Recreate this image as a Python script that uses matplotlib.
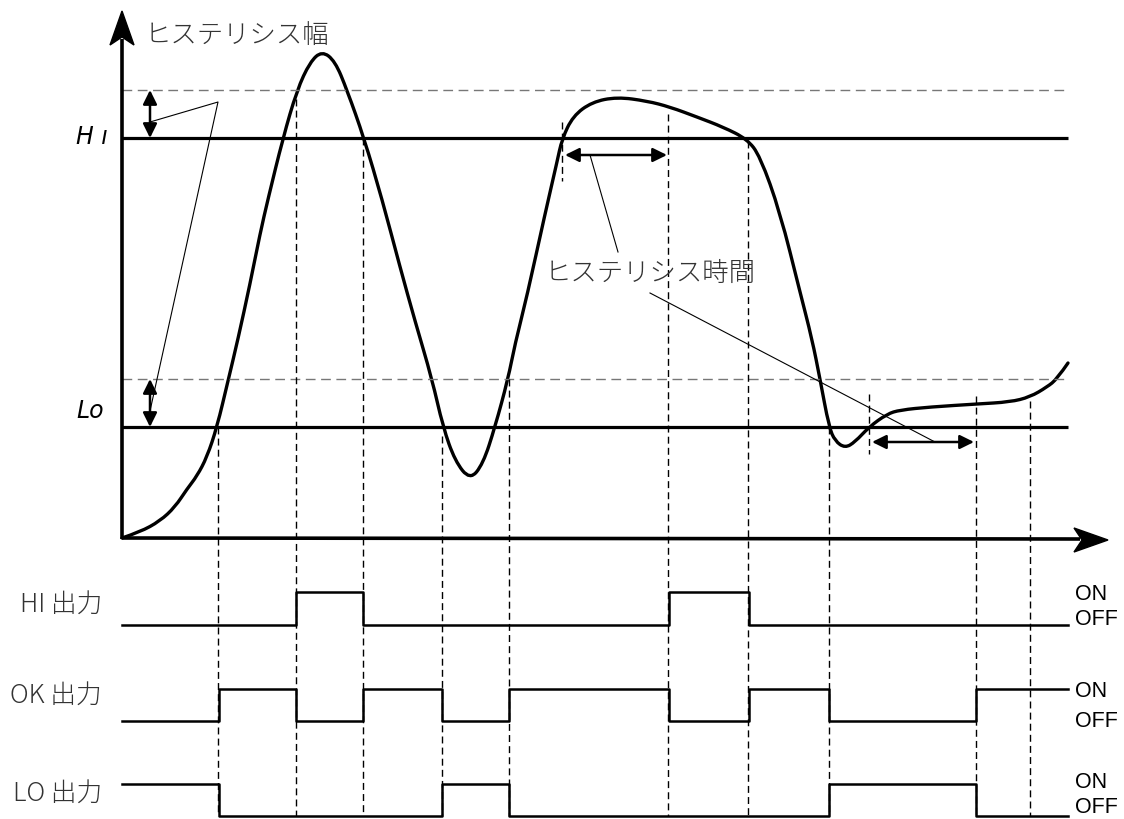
import matplotlib
matplotlib.use("Agg")
import matplotlib.pyplot as plt
from matplotlib.path import Path
from matplotlib.patches import PathPatch, Polygon
import numpy as np

# ---------------- data (pixel units) ----------------
curve_x = [122, 140, 160, 175, 187, 197, 207, 217, 228, 238, 250, 260, 268, 283, 297,
           310, 322, 335, 347, 364, 382, 400, 415, 432, 443, 455, 470, 483, 495, 508,
           515, 527, 545, 557, 562, 573, 592, 617, 647, 670, 697, 723, 747, 760, 780,
           800, 812, 820, 829, 835, 845, 855, 869, 887, 900, 930, 977, 1010, 1030,
           1047, 1057, 1068]
curve_y = [539, 533, 522, 508, 490, 477, 458, 428, 382, 340, 285, 235, 200, 139, 91,
           63, 52, 62, 91, 139, 200, 268, 322, 380, 428, 462, 481, 465, 428, 380,
           345, 297, 215, 163, 140, 117, 103, 98, 102, 108, 118, 128, 140, 157, 213,
           293, 340, 380, 428, 442, 449, 443, 428, 415, 411, 408, 405, 403, 398,
           388, 380, 364]

hi_level = 139
lo_level = 428
hi_hyst = 91
lo_hyst = 380

out_t = [122, 219, 296, 363, 442, 509, 669, 749, 829, 976, 1068]
hi_state = [0, 0, 1, 0, 0, 0, 1, 0, 0, 0]
ok_state = [0, 1, 0, 1, 0, 1, 0, 1, 0, 1]
lo_state = [1, 0, 0, 0, 1, 0, 0, 0, 1, 0]
out_names = ["HI 出力", "OK 出力", "LO 出力"]
out_on = [593, 690, 785]
out_off = [626, 722, 817]

# dashed guide lines: x, top y (all run down to the bottom of the outputs)
guide_x = [218, 296, 363, 442, 509, 668, 748, 829, 976, 1030]
guide_top = [428, 100, 139, 437, 380, 115, 142, 428, 397, 402]
# short hysteresis-time markers: x, top, bottom
mark_x = [562, 869]
mark_top = [123, 395]
mark_bot = [182, 455]
# hysteresis-time spans
span_x0 = [565, 872]
span_x1 = [667, 974]
span_y = [156, 443]

# ---------------- figure ----------------
W, H = 1124, 820
fig = plt.figure(figsize=(W / 100, H / 100), dpi=100)
ax = fig.add_axes([0, 0, 1, 1])
ax.set_xlim(0, W)
ax.set_ylim(H, 0)
ax.axis("off")

jp = ["Noto Sans CJK JP", "DejaVu Sans"]
txt_col = "#333333"
X0, X1 = 122, 1068
y_base = 539

# hysteresis dashed lines (gray)
for yy in (hi_hyst, lo_hyst):
    ax.plot([X0, X1], [yy, yy], color="#777777", lw=1.0, ls=(0, (7, 4)))

# Hi / Lo thresholds
for yy in (hi_level, lo_level):
    ax.plot([X0, X1], [yy, yy], color="black", lw=2.3, solid_capstyle="butt")

# dashed vertical guides
for gx, gt in zip(guide_x, guide_top):
    ax.plot([gx, gx], [gt, out_off[2]], color="black", lw=1.0, ls=(0, (5, 3)))
for mx, mt, mb in zip(mark_x, mark_top, mark_bot):
    ax.plot([mx, mx], [mt, mb], color="black", lw=1.0, ls=(0, (5, 3)))

# waveform as smooth quadratic path through the read points
pts = np.column_stack([curve_x, curve_y]).astype(float)
verts = [tuple(pts[0])]
codes = [Path.MOVETO]
for i in range(1, len(pts) - 1):
    mid = (pts[i] + pts[i + 1]) / 2.0
    if i == len(pts) - 2:
        mid = pts[i + 1]
    verts += [tuple(pts[i]), tuple(mid)]
    codes += [Path.CURVE3, Path.CURVE3]
ax.add_patch(PathPatch(Path(verts, codes), fill=False, lw=2.4, ec="black",
                       capstyle="round", joinstyle="round"))

# axes with arrows
ax.plot([X0, X0], [y_base + 1, 40], color="black", lw=2.6, solid_capstyle="butt")
ax.plot([X0, 1080], [y_base, y_base + 1], color="black", lw=2.6, solid_capstyle="butt")
ax.add_patch(Polygon([(122, 12), (134, 46), (122, 38), (110, 46)], closed=True,
                     fc="black", ec="black", lw=1))
ax.add_patch(Polygon([(1108, 541), (1074, 529), (1082, 541), (1074, 553)], closed=True,
                     fc="black", ec="black", lw=1))

# hysteresis width / time double arrows
astyle = dict(arrowstyle="<|-|>,head_length=0.85,head_width=0.42", color="black",
              lw=1.8, shrinkA=0, shrinkB=0)
for a, b in ((hi_hyst, hi_level), (lo_hyst, lo_level)):
    ax.annotate("", xy=(150, a), xytext=(150, b), arrowprops=astyle)
for x0, x1, yy in zip(span_x0, span_x1, span_y):
    ax.annotate("", xy=(x0, yy), xytext=(x1, yy), arrowprops=astyle)

# leader lines
ax.plot([150, 218, 150], [123, 103, 412], color="black", lw=0.8)
ax.plot([590, 618], [156, 253], color="black", lw=0.8)
ax.plot([650, 935], [294, 443], color="black", lw=0.8)

# texts
ax.text(145, 35, "ヒステリシス幅", family=jp, fontsize=19, color=txt_col,
        va="center", ha="left", fontweight="light")
ax.text(545, 273, "ヒステリシス時間", family=jp, fontsize=19, color=txt_col,
        va="center", ha="left", fontweight="light")
ax.text(76, 137, "H ı", family="DejaVu Sans", style="oblique", fontsize=17,
        va="center", ha="left", color="black")
ax.text(76, 411, "Lo", family="DejaVu Sans", style="oblique", fontsize=17,
        va="center", ha="left", color="black")

# output timing lines
states = [hi_state, ok_state, lo_state]
label_y = [605, 696, 794]
on_y = [595, 692, 783]
off_y = [620, 722, 808]
for k in range(3):
    lv = [out_on[k] if s else out_off[k] for s in states[k]]
    ax.step(out_t, lv + [lv[-1]], where="post", color="black", lw=1.8)
    ax.text(102, label_y[k], out_names[k], family=jp, fontsize=18.5, color=txt_col,
            va="center", ha="right", fontweight="light")
    ax.text(1075, on_y[k], "ON", family="Liberation Sans", fontsize=15.5,
            va="center", ha="left", color="black")
    ax.text(1075, off_y[k], "OFF", family="Liberation Sans", fontsize=15.5,
            va="center", ha="left", color="black")

fig.savefig("out.png", dpi=100)
